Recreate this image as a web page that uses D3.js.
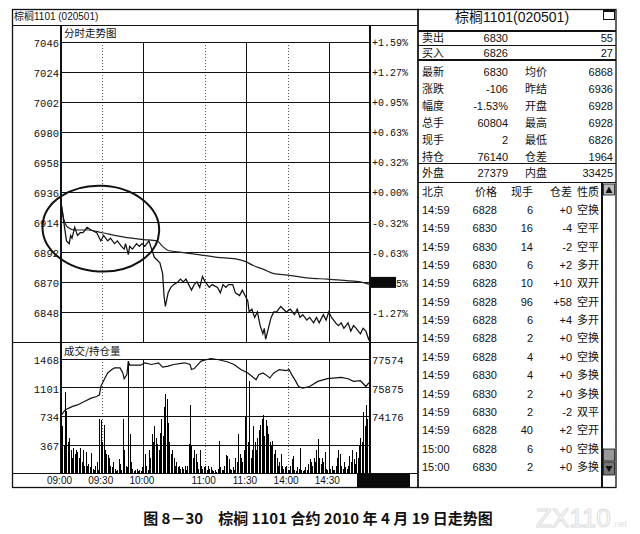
<!DOCTYPE html>
<html><head><meta charset="utf-8">
<script src="https://cdn.jsdelivr.net/npm/d3@7/dist/d3.min.js"></script>
<style>body{margin:0;background:#fff}svg{display:block}</style>
</head><body><svg id="c" width="640" height="534"></svg>
<script>
// ---------- data ----------
const prevSettle = 6936;
const priceTicks = [7046,7024,7002,6980,6958,6936,6914,6892,6870,6848];
const pctLabels = ["+1.59%","+1.27%","+0.95%","+0.63%","+0.32%","+0.00%","-0.32%","-0.63%","-0.95%","-1.27%"];
const volTicks = [1468,1101,734,367];
const oiTicks = [77574,75875,74176];
const timeLabels = ["09:00","09:30","10:00","11:00","11:30","14:00","14:30"];
const timeMinutes = [0,30,60,105,135,165,195];

const pricePoints = [[0,6928],[1,6922],[2,6914],[4,6900],[6,6898],[7,6904],[8,6902],[10,6910],[12,6904],[14,6906],[16,6906],[19,6910],[22,6908],[26,6906],[29,6900],[31,6904],[34,6900],[36,6902],[39,6898],[41,6900],[44,6896],[46,6894],[47,6898],[49,6890],[50,6896],[52,6894],[55,6898],[57,6896],[59,6898],[61,6896],[64,6900],[66,6894],[68,6888],[70,6886],[72,6884],[74,6876],[75,6860],[76,6852],[78,6862],[80,6866],[82,6868],[85,6870],[87,6872],[89,6870],[91,6872],[95,6864],[97,6868],[99,6870],[101,6866],[103,6874],[105,6870],[108,6866],[110,6868],[114,6866],[116,6862],[118,6868],[120,6866],[122,6868],[125,6868],[127,6862],[130,6860],[132,6864],[134,6860],[136,6856],[137,6848],[139,6850],[141,6844],[143,6848],[145,6838],[147,6832],[148,6836],[149,6828],[151,6836],[153,6844],[155,6848],[157,6848],[160,6852],[162,6850],[164,6848],[167,6850],[170,6846],[172,6850],[174,6844],[176,6846],[179,6842],[181,6844],[184,6840],[186,6844],[188,6840],[191,6846],[193,6842],[195,6848],[197,6844],[200,6840],[202,6838],[204,6840],[206,6836],[209,6840],[211,6834],[213,6838],[215,6836],[218,6832],[220,6836],[222,6834],[224,6828],[225,6830]];

const avgPoints = [[0,6928],[2,6916],[5,6910],[10,6908],[20,6908],[30,6906],[45,6903],[60,6901],[70,6900],[74,6896],[78,6893],[85,6892],[100,6890],[114,6888],[126,6887],[134,6885],[140,6882],[148,6879],[155,6876],[165,6875],[179,6873],[194,6872],[208,6871],[218,6870],[225,6868]];

const oiPoints = [[0,74200],[3,74530],[8,74730],[12,74830],[17,75030],[22,75230],[26,75330],[28,75430],[29,75920],[32,76420],[34,76720],[37,76920],[39,77020],[43,77020],[45,76720],[46,76380],[48,76620],[49,77420],[50,77180],[58,77180],[61,77320],[66,77220],[71,77320],[74,77060],[78,77120],[82,77220],[90,77320],[94,77220],[95,76920],[97,76980],[102,77420],[109,77574],[114,77515],[121,77380],[126,77220],[131,76920],[136,76720],[139,76520],[142,76320],[144,76620],[147,76720],[149,76620],[152,76420],[155,76720],[159,76920],[164,76860],[166,76920],[168,76620],[171,76220],[173,75920],[176,75830],[181,75920],[187,76220],[194,76380],[204,76460],[209,76380],[213,76220],[218,76260],[222,75920],[224,76120],[225,76140]];

const volumes = [960,600,350,1040,800,400,450,300,200,330,
250,300,280,200,330,150,300,100,280,100,
120,80,260,60,50,100,150,40,700,680,
400,620,300,250,230,200,100,80,150,60,
30,40,190,120,50,700,300,100,80,1430,
500,150,60,30,40,60,30,50,30,80,
120,250,100,50,300,200,510,400,600,450,
380,300,520,700,480,850,1020,950,650,400,
250,300,200,100,150,80,100,60,80,60,
100,50,100,380,875,350,200,300,250,150,
60,300,100,60,80,100,50,100,60,80,
40,30,50,20,60,410,80,50,40,100,
230,220,180,60,40,80,50,200,150,510,
250,200,150,300,730,300,400,1180,200,300,
600,400,300,450,550,620,700,750,480,680,
600,500,400,350,420,250,300,200,100,150,
250,100,60,80,100,50,40,100,180,220,
40,30,80,60,320,50,30,50,80,40,
120,180,150,100,200,150,300,440,200,120,
200,150,280,60,40,80,60,100,40,50,
100,200,300,250,100,60,150,80,60,100,
220,150,300,180,120,280,200,350,450,400,
790,600,875,700,980];

// circled region (annotation) in data units
const noteCenter = [29, 6909];
const noteHalfSpan = [42.5, 31.4];

// right panel
const panelTitle = "棕榈1101(020501)";
const bookRows = [["卖出","6830","55"],["买入","6826","27"]];
const quoteLabelsL = ["最新","涨跌","幅度","总手","现手","持仓"];
const quoteValuesL = ["6830","-106","-1.53%","60804","2","76140"];
const quoteLabelsR = ["均价","昨结","开盘","最高","最低","仓差"];
const quoteValuesR = ["6868","6936","6928","6928","6826","1964"];
const outerInner = ["外盘","27379","内盘","33425"];
const tickHeader = ["北京","价格","现手","仓差","性质"];
const tickTime = ["14:59","14:59","14:59","14:59","14:59","14:59","14:59","14:59","14:59","14:59","14:59","14:59","14:59","15:00","15:00"];
const tickPrice = ["6828","6830","6830","6830","6828","6828","6828","6828","6828","6830","6830","6830","6828","6828","6830"];
const tickVol = ["6","16","14","6","10","96","6","2","4","4","2","2","40","6","2"];
const tickOI = ["+0","-4","-2","+2","+10","+58","+4","+0","+0","+0","+0","-2","+2","+0","+0"];
const tickType = ["空换","空平","空平","多开","双开","空开","多开","空换","空换","多换","多换","双平","空开","空换","多换"];

const leftTitle = "棕榈1101 (020501)";
const priceTitle = "分时走势图";
const volTitle = "成交/持仓量";
const caption = "图 8－30　棕榈 1101 合约 2010 年 4 月 19 日走势图";

// ---------- drawing ----------
const svg = d3.select("#c");
const INK = "#111";
const MONO = "'Liberation Mono','DejaVu Sans Mono',monospace";
const SANS = "'Liberation Sans','Noto Sans CJK SC',sans-serif";
const CJK = "'Noto Sans CJK SC','Liberation Sans',sans-serif";

const L = 61, R = 370;
const x = d3.scaleLinear().domain([0,225]).range([L,R]);
const yP = d3.scaleLinear().domain([6826,7046]).range([342,41.5]);
const yV = d3.scaleLinear().domain([0,1468]).range([473.5,358.5]);
const yO = d3.scaleLinear().domain([74176-2*1699,77574]).range([473.5,358.5]);

function hline(g,y,x1,x2,w,dash){g.append("line").attr("x1",x1).attr("x2",x2).attr("y1",y).attr("y2",y).attr("stroke",INK).attr("stroke-width",w||1).attr("stroke-dasharray",dash||null).attr("shape-rendering","crispEdges");}
function vline(g,xx,y1,y2,w,dash,col){g.append("line").attr("x1",xx).attr("x2",xx).attr("y1",y1).attr("y2",y2).attr("stroke",col||INK).attr("stroke-width",w||1).attr("stroke-dasharray",dash||null).attr("shape-rendering","crispEdges");}

const frame = svg.append("g");
frame.append("rect").attr("x",12.5).attr("y",9.5).attr("width",405.5).attr("height",478).attr("fill","none").attr("stroke",INK).attr("stroke-width",1.3);
hline(frame,25,12,418,1);
hline(frame,342.5,12,418,1.5);
hline(frame,473.5,12,418,1.3);
vline(frame,L,25,473.5,1.3);
vline(frame,R,25,473.5,1.3);

// vertical gridlines (both panes)
const grid = svg.append("g");
timeMinutes.forEach((m,i)=>{
  if(i===0) return;
  const dotted = i%2===1;
  [[41.5,342],[358.5,473.5]].forEach(([a,b])=>vline(grid,Math.round(x(m))+0.5,a,b,dotted?1:1.3,dotted?"1,2":null,dotted?"#555":INK));
});
priceTicks.forEach(p=>hline(grid,Math.round(yP(p))+0.5,L,R,p===prevSettle?1.6:1.2));
volTicks.forEach(v=>hline(grid,Math.round(yV(v))+0.5,L,R,1.2));

// axes
function styleAxis(g,font,size){g.select(".domain").remove();g.selectAll("line").remove();g.selectAll("text").attr("font-family",font).attr("font-size",size).attr("fill",INK);}
const axL = d3.axisLeft(yP).tickValues(priceTicks).tickSize(0).tickPadding(2).tickFormat(d3.format("d"));
svg.append("g").attr("transform",`translate(${L},1.5)`).call(axL).call(g=>styleAxis(g,MONO,"10.5px"));

const hiTick = 6870;
const axR = d3.axisRight(yP).tickValues(priceTicks).tickSize(0).tickPadding(2).tickFormat((d,i)=>pctLabels[i]);
svg.append("g").attr("transform",`translate(${R},1)`).call(axR).call(g=>styleAxis(g,MONO,"10px"));
svg.append("rect").attr("x",R+1).attr("y",yP(hiTick)-5).attr("width",25).attr("height",11).attr("fill","#0a0a0a");

const axVL = d3.axisLeft(yV).tickValues(volTicks).tickSize(0).tickPadding(2).tickFormat(d3.format("d"));
svg.append("g").attr("transform",`translate(${L},1.5)`).call(axVL).call(g=>styleAxis(g,MONO,"10.5px"));
const axVR = d3.axisRight(yO).tickValues(oiTicks).tickSize(0).tickPadding(2).tickFormat(d3.format("d"));
svg.append("g").attr("transform",`translate(${R},1.5)`).call(axVR).call(g=>styleAxis(g,MONO,"10.5px"));

const axT = d3.axisBottom(x).tickValues(timeMinutes).tickSize(0).tickPadding(3).tickFormat((d,i)=>timeLabels[i]);
svg.append("g").attr("transform",`translate(-2,473.5)`).call(axT).call(g=>styleAxis(g,SANS,"10px"));
svg.append("rect").attr("x",357).attr("y",474).attr("width",53).attr("height",13).attr("fill","#0a0a0a");

// titles
svg.append("text").attr("x",14).attr("y",20).attr("font-family",SANS).attr("font-size","10px").attr("fill",INK).text(leftTitle);
svg.append("text").attr("x",64).attr("y",37).attr("font-family",CJK).attr("font-size","10.5px").attr("fill",INK).text(priceTitle);
svg.append("text").attr("x",64).attr("y",355).attr("font-family",CJK).attr("font-size","10.5px").attr("fill",INK).text(volTitle);

// volume bars (crisp 1px)
svg.append("g").attr("shape-rendering","crispEdges").selectAll("rect").data(volumes).join("rect")
  .attr("x",(d,i)=>Math.round(x(i))).attr("width",1)
  .attr("y",d=>Math.round(yV(d))).attr("height",d=>Math.round(yV(0))-Math.round(yV(d))).attr("fill","#000");

// lines
const ln = (ys)=>d3.line().x(d=>x(d[0])).y(d=>ys(d[1]));
svg.append("path").datum(oiPoints).attr("d",ln(yO)).attr("fill","none").attr("stroke",INK).attr("stroke-width",1.2);
svg.append("path").datum(avgPoints).attr("d",ln(yP).curve(d3.curveMonotoneX)).attr("fill","none").attr("stroke","#222").attr("stroke-width",1.2);
svg.append("path").datum(pricePoints).attr("d",ln(yP)).attr("fill","none").attr("stroke",INK).attr("stroke-width",1.25);

// hand-drawn ellipse annotation
const ecx = x(noteCenter[0]), ecy = yP(noteCenter[1]);
svg.append("ellipse").attr("cx",ecx).attr("cy",ecy)
  .attr("rx",x(noteCenter[0]+noteHalfSpan[0])-ecx).attr("ry",ecy-yP(noteCenter[1]+noteHalfSpan[1]))
  .attr("transform",`rotate(3,${ecx},${ecy})`)
  .attr("fill","none").attr("stroke",INK).attr("stroke-width",2);

// ---------- right panel ----------
const rp = svg.append("g").attr("font-family",SANS).attr("fill",INK);
const RX0 = 418, RX1 = 616;
rp.append("rect").attr("x",RX0).attr("y",9.5).attr("width",RX1-RX0).attr("height",478).attr("fill","none").attr("stroke",INK).attr("stroke-width",1.3);
rp.append("text").attr("x",512).attr("y",22).attr("text-anchor","middle").attr("font-size","14px").text(panelTitle);
rp.append("rect").attr("x",603.5).attr("y",9.5).attr("width",11).attr("height",10).attr("fill","none").attr("stroke",INK);
rp.append("rect").attr("x",603.5).attr("y",9.5).attr("width",11).attr("height",2.5).attr("fill",INK);
[31,45.5,60,163.5,182.5].forEach(yy=>hline(rp,yy,RX0,RX1,1.2));

const fs = "11px";
bookRows.forEach((r,i)=>{
  const yy = 42 + i*14.5;
  rp.append("text").attr("x",422).attr("y",yy).attr("font-size",fs).text(r[0]);
  rp.append("text").attr("x",508).attr("y",yy).attr("text-anchor","end").attr("font-size",fs).text(r[1]);
  rp.append("text").attr("x",613).attr("y",yy).attr("text-anchor","end").attr("font-size",fs).text(r[2]);
});
quoteLabelsL.forEach((lab,i)=>{
  const yy = 76 + i*17;
  rp.append("text").attr("x",422).attr("y",yy).attr("font-size",fs).text(lab);
  rp.append("text").attr("x",508).attr("y",yy).attr("text-anchor","end").attr("font-size",fs).text(quoteValuesL[i]);
  rp.append("text").attr("x",525).attr("y",yy).attr("font-size",fs).text(quoteLabelsR[i]);
  rp.append("text").attr("x",613).attr("y",yy).attr("text-anchor","end").attr("font-size",fs).text(quoteValuesR[i]);
});
{
  const yy = 177;
  rp.append("text").attr("x",422).attr("y",yy).attr("font-size",fs).text(outerInner[0]);
  rp.append("text").attr("x",508).attr("y",yy).attr("text-anchor","end").attr("font-size",fs).text(outerInner[1]);
  rp.append("text").attr("x",525).attr("y",yy).attr("font-size",fs).text(outerInner[2]);
  rp.append("text").attr("x",613).attr("y",yy).attr("text-anchor","end").attr("font-size",fs).text(outerInner[3]);
}
const colX = [422,497,533,572,577];
const colAnchor = ["start","end","end","end","start"];
tickHeader.forEach((h,j)=>rp.append("text").attr("x",colX[j]).attr("y",196).attr("text-anchor",colAnchor[j]).attr("font-size",fs).text(h));
tickTime.forEach((t,i)=>{
  const yy = 214 + i*18.35;
  [t,tickPrice[i],tickVol[i],tickOI[i],tickType[i]].forEach((v,j)=>
    rp.append("text").attr("x",colX[j]).attr("y",yy).attr("text-anchor",colAnchor[j]).attr("font-size",fs).text(v));
});
vline(rp,602,182.5,487.5,1.2);
rp.append("rect").attr("x",603.5).attr("y",184).attr("width",11).attr("height",11).attr("fill","#bbb").attr("stroke",INK).attr("stroke-width",0.8);
rp.append("path").attr("d","M605.5,193 L609,186.5 L612.5,193 Z").attr("fill",INK);
rp.append("rect").attr("x",603.5).attr("y",449).attr("width",11).attr("height",12).attr("fill","#999").attr("stroke",INK).attr("stroke-width",0.8);
rp.append("rect").attr("x",603.5).attr("y",462).attr("width",11).attr("height",13).attr("fill","#777").attr("stroke",INK).attr("stroke-width",0.8);
rp.append("path").attr("d","M605.5,466 L609,472 L612.5,466 Z").attr("fill",INK);

// caption + watermark
svg.append("text").attr("x",318).attr("y",524).attr("text-anchor","middle")
  .attr("font-family",CJK).attr("font-weight","bold").attr("font-size","15px").attr("fill",INK).text(caption);
svg.append("text").attr("x",536).attr("y",527).attr("font-family",SANS).attr("font-size","26px")
  .attr("fill","none").attr("stroke","#dcdcdc").attr("stroke-width",1).text("ZX110");
svg.append("text").attr("x",612).attr("y",527).attr("font-family",SANS).attr("font-size","9px").attr("fill","#e0e0e0").text(".net");
</script></body></html>
